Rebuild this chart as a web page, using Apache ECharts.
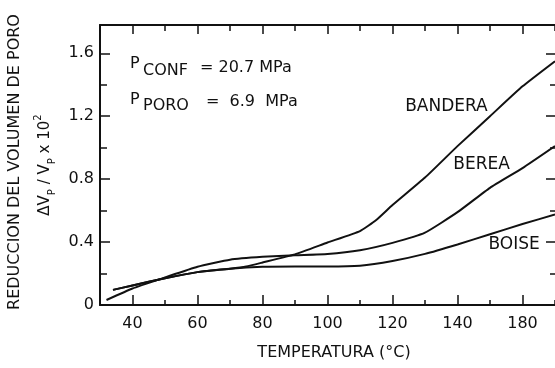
<!DOCTYPE html>
<html><head><meta charset="utf-8">
<script src="https://cdn.jsdelivr.net/npm/echarts@6/dist/echarts.min.js"></script>
<style>html,body{margin:0;padding:0;background:#fff}#c{width:555px;height:368px}</style>
</head><body><div id="c"></div>
<script>
// tick values and labels (the original prints "180" at the 160 position)
const xTickValues = [40, 60, 80, 100, 120, 140, 160];
const xTickLabels = ['40', '60', '80', '100', '120', '140', '180'];
const xMinorValues = [30, 50, 70, 90, 110, 130, 150, 170];
const yTickValues = [0, 0.4, 0.8, 1.2, 1.6];
const yTickLabels = ['0', '0.4', '0.8', '1.2', '1.6'];
const yMinorValues = [0.2, 0.6, 1.0, 1.4];

// series: temperature (°C) and pore volume reduction (ΔVp/Vp x 10^2)
const banderaT = [34, 40, 50, 60, 70, 75, 80, 90, 100, 110, 115, 120, 130, 140, 150, 160, 170];
const banderaV = [0.096, 0.124, 0.17, 0.209, 0.231, 0.245, 0.27, 0.322, 0.397, 0.47, 0.54, 0.635, 0.81, 1.01, 1.2, 1.39, 1.55];
const bereaT = [32, 40, 50, 60, 70, 80, 90, 100, 110, 120, 130, 140, 150, 160, 170];
const bereaV = [0.032, 0.105, 0.175, 0.243, 0.288, 0.306, 0.316, 0.324, 0.348, 0.395, 0.46, 0.59, 0.745, 0.87, 1.01];
const boiseT = [34, 40, 50, 60, 70, 80, 90, 100, 110, 120, 130, 140, 150, 160, 170];
const boiseV = [0.096, 0.124, 0.17, 0.209, 0.231, 0.243, 0.245, 0.245, 0.25, 0.28, 0.325, 0.385, 0.45, 0.515, 0.575];

const C = '#111';
const F = 'DejaVu Sans';
const zip = (a, b) => a.map((v, i) => [v, b[i]]);
const labelOf = (vals, labs) => v => {
  const i = vals.findIndex(t => Math.abs(t - v) < 1e-6);
  return i >= 0 ? labs[i] : '';
};

function xAx(pos, ticks, len, line, labels) {
  return {
    type: 'value', min: 30, max: 170, position: pos,
    axisLine: { show: line, onZero: false, lineStyle: { color: C, width: 2 } },
    axisTick: { show: true, inside: true, length: len, customValues: ticks, lineStyle: { color: C, width: 1.5 } },
    axisLabel: labels ? { show: true, customValues: xTickValues, formatter: labelOf(xTickValues, xTickLabels), margin: 11, fontSize: 16, color: C, fontFamily: F } : { show: false },
    splitLine: { show: false }
  };
}
function yAx(pos, ticks, len, line, labels) {
  return {
    type: 'value', min: 0, max: 1.78, position: pos,
    axisLine: { show: line, onZero: false, lineStyle: { color: C, width: 2 } },
    axisTick: { show: true, inside: true, length: len, customValues: ticks, lineStyle: { color: C, width: 1.5 } },
    axisLabel: labels ? { show: true, customValues: yTickValues, formatter: labelOf(yTickValues, yTickLabels), margin: 6, fontSize: 16, color: C, fontFamily: F } : { show: false },
    splitLine: { show: false }
  };
}
function curveLabel(text, t, v) {
  return {
    symbol: 'rect', symbolSize: 1, silent: true,
    itemStyle: { color: 'rgba(0,0,0,0)' },
    label: { show: true, position: 'inside', formatter: text, color: C, fontSize: 17, fontFamily: F },
    data: [{ coord: [t, v] }]
  };
}
function line(name, t, v, lab) {
  return {
    name, type: 'line', xAxisIndex: 0, yAxisIndex: 0, data: zip(t, v),
    showSymbol: false, symbol: 'none', smooth: 0.15,
    lineStyle: { color: C, width: 2 }, markPoint: lab
  };
}
function txt(text, x, y, size, extra) {
  return Object.assign({
    type: 'text', x, y, silent: true,
    style: { text, fill: C, fontSize: size, fontFamily: F, align: 'left', verticalAlign: 'middle' }
  }, extra || {});
}

const chart = echarts.init(document.getElementById('c'), null, { renderer: 'canvas' });
chart.setOption({
  animation: false,
  backgroundColor: '#fff',
  grid: { left: 100, right: 0, top: 25, bottom: 63, containLabel: false },
  xAxis: [
    xAx('bottom', xTickValues, 10, true, true),
    xAx('bottom', xMinorValues, 5, false, false),
    xAx('top', xTickValues, 9, true, false),
    xAx('top', xMinorValues, 6, false, false)
  ],
  yAxis: [
    yAx('left', yTickValues, 10, true, true),
    yAx('left', yMinorValues, 7, false, false),
    yAx('right', yTickValues, 9, false, false),
    yAx('right', yMinorValues, 5, false, false)
  ],
  series: [
    line('BANDERA', banderaT, banderaV, curveLabel('BANDERA', 136.6, 1.261)),
    line('BEREA', bereaT, bereaV, curveLabel('BEREA', 147.4, 0.892)),
    line('BOISE', boiseT, boiseV, curveLabel('BOISE', 157.4, 0.382))
  ],
  graphic: [
    txt('REDUCCION DEL VOLUMEN DE PORO', 15, 162, 16, { rotation: Math.PI / 2, style: { text: 'REDUCCION DEL VOLUMEN DE PORO', fill: C, fontSize: 16, fontFamily: F, align: 'center', verticalAlign: 'middle' } }),
    {
      type: 'text', x: 45, y: 165, rotation: Math.PI / 2, silent: true,
      style: {
        text: '{n|ΔV}{s|P}{n| / V}{s|P}{n| x 10}{u|2}',
        align: 'center', verticalAlign: 'middle', fill: C,
        rich: {
          n: { fontSize: 15, fontFamily: F, lineHeight: 24, verticalAlign: 'middle', fill: C },
          s: { fontSize: 10, fontFamily: F, lineHeight: 11, verticalAlign: 'bottom', fill: C },
          u: { fontSize: 10, fontFamily: F, lineHeight: 11, verticalAlign: 'top', fill: C }
        }
      }
    },
    txt('TEMPERATURA (°C)', 334, 353, 16, { style: { text: 'TEMPERATURA (°C)', fill: C, fontSize: 16, fontFamily: F, align: 'center', verticalAlign: 'middle' } }),
    txt('P', 130, 64, 16),
    txt('CONF', 143, 71, 16),
    txt('= 20.7 MPa', 200, 67.5, 16),
    txt('P', 130, 100, 16),
    txt('PORO', 143, 106, 16),
    txt('=  6.9  MPa', 206, 102, 16)
  ]
});
</script></body></html>
